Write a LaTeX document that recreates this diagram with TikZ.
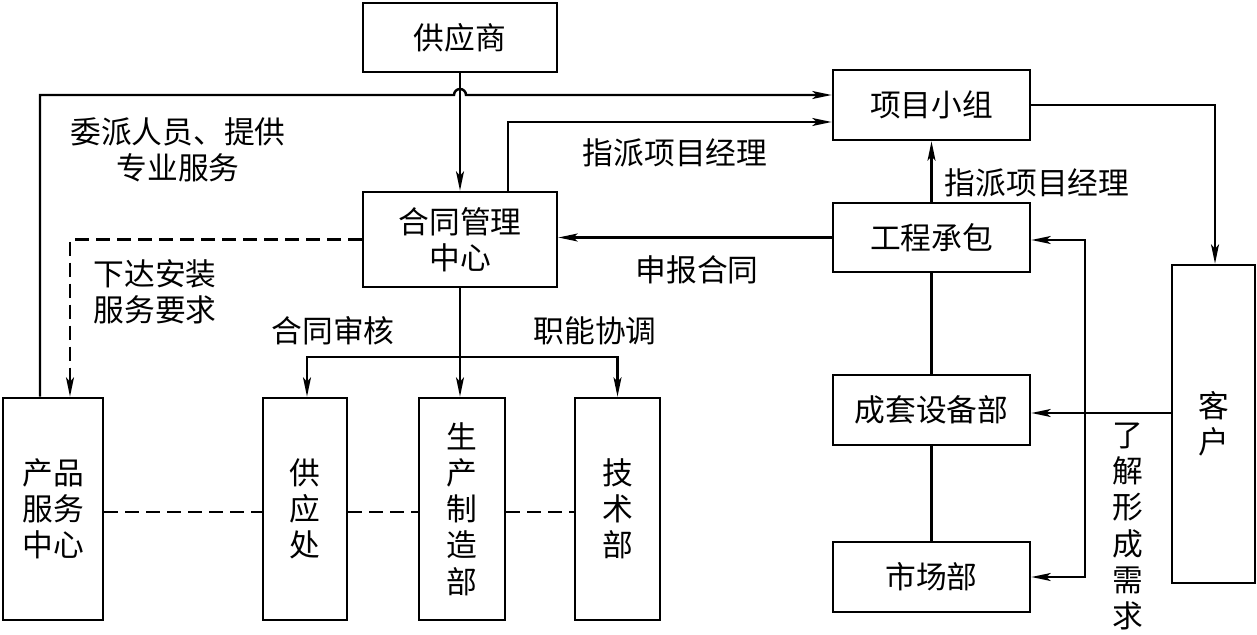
\documentclass[tikz,border=0pt]{standalone}
\usepackage{fontspec}
\setmainfont{Noto Sans CJK SC}
\usetikzlibrary{arrows.meta}
\begin{document}
\begin{tikzpicture}[x=0.02cm,y=-0.02cm,
  line width=1.4pt,
  every node/.style={font=\fontsize{17.5pt}{20.6pt}\selectfont},
  box/.style={draw,line width=1.5pt,inner sep=0pt,align=center},
  lbl/.style={inner sep=0pt,align=center},
  arr/.style={-{Stealth[length=11pt,width=4.5pt,inset=2.5pt]}},
  dsh/.style={dash pattern=on 0.28cm off 0.14cm}]
\useasboundingbox (0,0) rectangle (1257,635);
% boxes
\node[box,minimum width=3.88cm,minimum height=1.38cm] (gys) at (460,37.5) {供应商};
\node[box,minimum width=3.94cm,minimum height=1.40cm] (xmxz) at (931.5,105) {项目小组};
\node[box,minimum width=3.88cm,minimum height=1.90cm] (htgl) at (460,239.5) {合同管理\\中心};
\node[box,minimum width=3.94cm,minimum height=1.38cm] (gccb) at (931.5,237.5) {工程承包};
\node[box,minimum width=3.94cm,minimum height=1.40cm] (ctsb) at (931.5,410) {成套设备部};
\node[box,minimum width=3.94cm,minimum height=1.40cm] (scb) at (931.5,577) {市场部};
\node[box,minimum width=1.66cm,minimum height=6.36cm] (kh) at (1213.5,424) {客\\户};
\node[box,minimum width=2.00cm,minimum height=4.44cm] (cpfw) at (53,509) {产品\\服务\\中心};
\node[box,minimum width=1.68cm,minimum height=4.44cm] (gyc) at (305,509) {供\\应\\处};
\node[box,minimum width=1.72cm,minimum height=4.44cm] (sczz) at (462,509) {生\\产\\制\\造\\部};
\node[box,minimum width=1.70cm,minimum height=4.44cm] (jsb) at (617.5,509) {技\\术\\部};
% labels
\node[lbl] (l1) at (178,149.5) {委派人员、提供\\专业服务};
\node[lbl] (l2) at (675,153) {指派项目经理};
\node[lbl] (l3) at (1037,183) {指派项目经理};
\node[lbl] (l4) at (697,270) {申报合同};
\node[lbl] (l5) at (155,292) {下达安装\\服务要求};
\node[lbl] (l6) at (333,331) {合同审核};
\node[lbl] (l7) at (595,331) {职能协调};
\node[lbl] (l8) at (1128,526.5) {了\\解\\形\\成\\需\\求};
% connectors
\draw[arr] (gys) -- (htgl);
\coordinate (hopa) at (454,95);
\draw[arr] ([xshift=-0.26cm]cpfw.north) |- (hopa)
  arc[start angle=180,end angle=0,radius=0.12cm] -- ([yshift=0.2cm]xmxz.west);
\draw[arr] ([xshift=0.96cm]htgl.north) |- ([yshift=-0.34cm]xmxz.west);
\draw[arr] (gccb) -- (xmxz);
\draw[arr] (gccb.west) -- (gccb.west -| htgl.east);
\draw[arr,dsh] (htgl.west) -| ([xshift=0.34cm]cpfw.north);
\draw[arr] (htgl.south) -- (htgl.south |- sczz.north);
\coordinate (br) at (460,357);
\draw[arr] (br) -| ([xshift=0.04cm]gyc.north);
\draw[arr] (br) -| (jsb.north);
\draw (gccb) -- (ctsb);
\draw (ctsb) -- (scb);
\draw[arr] (xmxz.east) -| ([xshift=0.03cm]kh.north);
\draw[arr] ([yshift=-0.06cm]kh.west |- ctsb.east) -- ([yshift=-0.06cm]ctsb.east);
\coordinate (jn) at (1085,413);
\draw[arr] (jn) |- ([yshift=-0.05cm]gccb.east);
\draw[arr] (jn) |- (scb.east);
\draw[dsh] (cpfw.east |- 0,512) -- (gyc.west |- 0,512);
\draw[dsh] (gyc.east |- 0,512) -- (sczz.west |- 0,512);
\draw[dsh] (sczz.east |- 0,512) -- (jsb.west |- 0,512);
\end{tikzpicture}
\end{document}
